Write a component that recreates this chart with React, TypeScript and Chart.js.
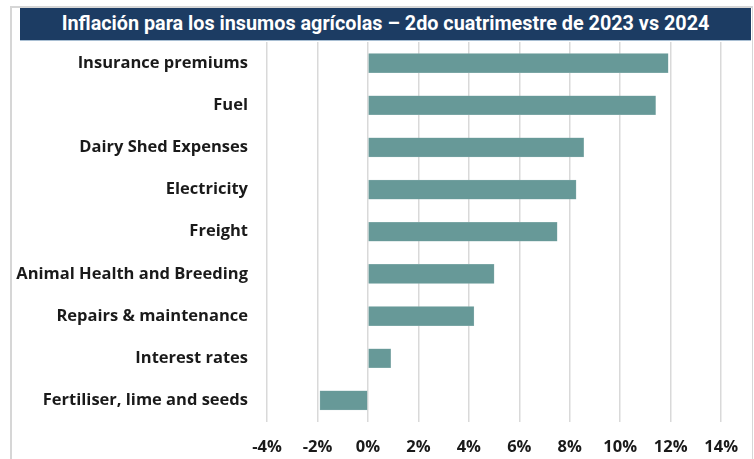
import React, { useEffect, useRef } from "react";
import { Chart, registerables } from "chart.js";

Chart.register(...registerables);

const TITLE = "Inflación para los insumos agrícolas – 2do cuatrimestre de 2023 vs 2024";
const categories = [
  "Insurance premiums",
  "Fuel",
  "Dairy Shed Expenses",
  "Electricity",
  "Freight",
  "Animal Health and Breeding",
  "Repairs & maintenance",
  "Interest rates",
  "Fertiliser, lime and seeds",
];
const values = [11.9, 11.4, 8.55, 8.25, 7.5, 5.0, 4.2, 0.9, -1.9];
const xMin = -4;
const xMax = 14;
const xStep = 2;

const LABEL_FONT = "'Open Sans', Lato, sans-serif";

export default function App() {
  const ref = useRef<HTMLCanvasElement | null>(null);

  useEffect(() => {
    const canvas = ref.current;
    if (!canvas) return;
    const chart = new Chart(canvas, {
      type: "bar",
      data: {
        labels: categories,
        datasets: [
          {
            data: values,
            backgroundColor: "#679998",
            borderColor: "#8fb3b2",
            borderWidth: 0.5,
            borderSkipped: false,
            barThickness: 19,
          },
        ],
      },
      options: {
        indexAxis: "y",
        animation: false,
        responsive: false,
        maintainAspectRatio: false,
        events: [],
        layout: { padding: { top: 42, right: 26, bottom: 0, left: 0 } },
        plugins: {
          legend: { display: false },
          tooltip: { enabled: false },
          title: { display: false },
        },
        scales: {
          x: {
            type: "linear",
            min: xMin,
            max: xMax,
            ticks: {
              stepSize: xStep,
              padding: 16,
              color: "#1a1a1a",
              font: { family: LABEL_FONT, size: 16.5, weight: "bold" },
              callback: (v: any) => `${v}%`,
            },
            grid: {
              display: true,
              color: "#d9d9d9",
              lineWidth: 1.5,
              drawTicks: false,
            },
            border: { display: false },
            afterFit: (s: any) => {
              s.height = 459 - 421.5;
            },
          },
          y: {
            ticks: {
              padding: 19,
              color: "#1a1a1a",
              font: { family: LABEL_FONT, size: 16.5, weight: "bold" },
            },
            grid: { display: false, drawTicks: false },
            border: { display: false },
            afterFit: (s: any) => {
              s.width = 267;
            },
          },
        },
      },
    });
    return () => chart.destroy();
  }, []);

  return (
    <div style={{ position: "absolute", left: 0, top: 0, width: 754, height: 459, background: "#fff", overflow: "hidden" }}>
      <div
        style={{
          position: "absolute",
          left: 10,
          top: 6,
          width: 740,
          height: 470,
          borderLeft: "2px solid #d6d6d6",
          borderTop: "2px solid #d6d6d6",
          borderRight: "1px solid #d6d6d6",
        }}
      />
      <canvas ref={ref} width={754} height={459} style={{ position: "absolute", left: 0, top: 0, width: 754, height: 459 }} />
      <div
        style={{
          position: "absolute",
          left: 20,
          top: 8,
          width: 731,
          height: 32,
          background: "#1c3c63",
          borderBottom: "1px solid #a9bfd3",
          color: "#ffffff",
          fontFamily: "Roboto, 'Noto Sans', sans-serif",
          fontWeight: 700,
          fontSize: 19.8,
          lineHeight: "32px",
          textAlign: "center",
          whiteSpace: "nowrap",
        }}
      >
        {TITLE}
      </div>
    </div>
  );
}
